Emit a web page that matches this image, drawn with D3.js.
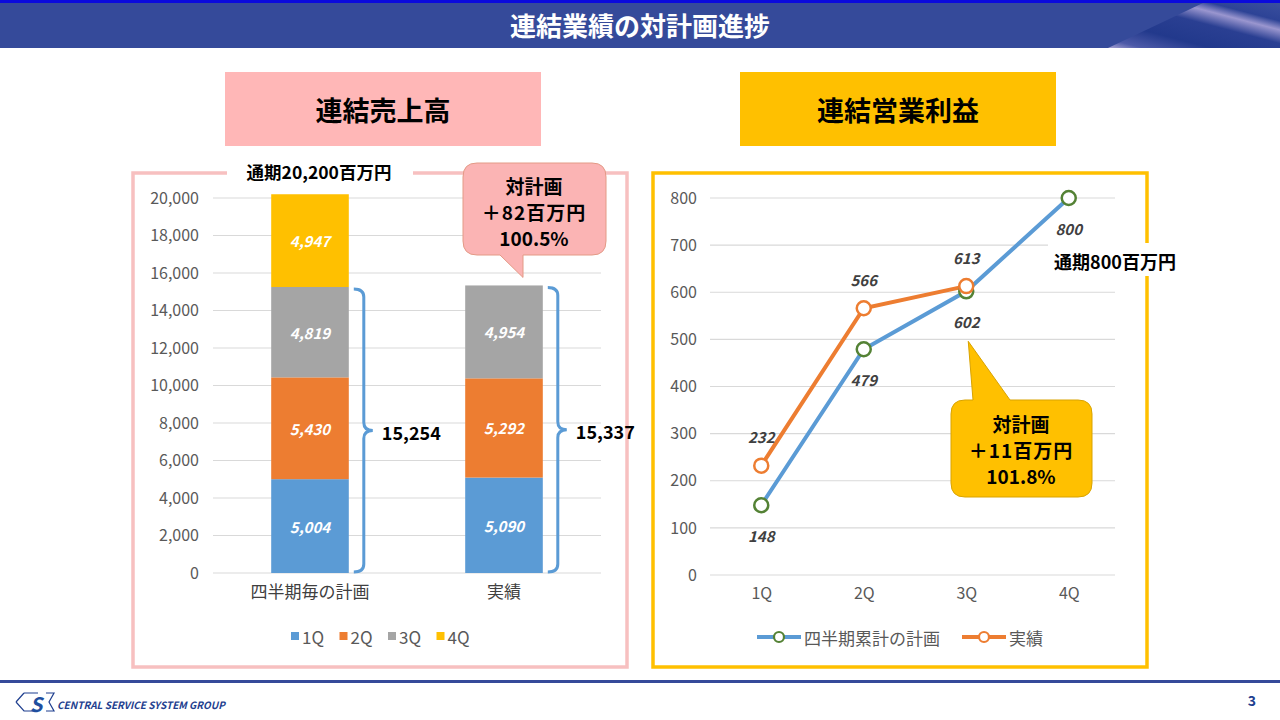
<!DOCTYPE html>
<html>
<head>
<meta charset="utf-8">
<script src="https://cdn.jsdelivr.net/npm/d3@7"></script>
<style>
  body { margin: 0; background: #fff; }
  svg { display: block; }
  text { font-family: "Noto Sans CJK JP", "Noto Sans", sans-serif; }
</style>
</head>
<body>
<svg id="chart" width="1280" height="720" viewBox="0 0 1280 720"></svg>
<script>
// data
const salesCategories = ["四半期毎の計画", "実績"]
const quarters = ["1Q", "2Q", "3Q", "4Q"]
const salesPlan = [5004, 5430, 4819, 4947]
const salesActual = [5090, 5292, 4954, 0]
const salesTicks = [0, 2000, 4000, 6000, 8000, 10000, 12000, 14000, 16000, 18000, 20000]
const salesTotals = [15254, 15337]
const salesPlanNote = "通期20,200百万円"
const salesDiff = ["対計画", "＋82百万円", "100.5%"]

const profitPlan = [148, 479, 602, 800]
const profitActual = [232, 566, 613]
const profitTicks = [0, 100, 200, 300, 400, 500, 600, 700, 800]
const profitSeries = ["四半期累計の計画", "実績"]
const profitPlanNote = "通期800百万円"
const profitDiff = ["対計画", "＋11百万円", "101.8%"]

const qColors = ["#5b9bd5", "#ed7d31", "#a5a5a5", "#ffc000"]

const svg = d3.select("#chart")
const fmt = d3.format(",")

// ---------- header ----------
const defs = svg.append("defs")
const grad = defs.append("linearGradient").attr("id", "stripe")
    .attr("x1", "0%").attr("y1", "100%").attr("x2", "100%").attr("y2", "0%")
;[["0%", "#a8a3d4"], ["10%", "#4d5aa8"], ["30%", "#22398c"], ["55%", "#2a3f92"], ["70%", "#9a96cf"], ["80%", "#2d4396"], ["100%", "#3a4f9e"]]
    .forEach(s => grad.append("stop").attr("offset", s[0]).attr("stop-color", s[1]))

svg.append("rect").attr("x", 0).attr("y", 0).attr("width", 1280).attr("height", 48).attr("fill", "#354a9a")
svg.append("polygon").attr("points", "1108,48 1203,3 1280,3 1280,48").attr("fill", "url(#stripe)")
svg.append("rect").attr("x", 0).attr("y", 0).attr("width", 1280).attr("height", 3).attr("fill", "#0a0adc")
svg.append("text").attr("x", 640).attr("y", 24).attr("text-anchor", "middle").attr("dominant-baseline", "central")
    .attr("fill", "#fff").attr("font-size", 26).attr("font-weight", "bold").text("連結業績の対計画進捗")

// ---------- title boxes ----------
const titles = [
    {x: 225, fill: "#ffb7b7", label: "連結売上高"},
    {x: 740, fill: "#ffc000", label: "連結営業利益"}
]
titles.forEach(t => {
    svg.append("rect").attr("x", t.x).attr("y", 72).attr("width", 316).attr("height", 74).attr("fill", t.fill)
    svg.append("text").attr("x", t.x + 158).attr("y", 109).attr("text-anchor", "middle").attr("dominant-baseline", "central")
        .attr("font-size", 27).attr("font-weight", "bold").attr("fill", "#000").text(t.label)
})

// ---------- panel frames ----------
svg.append("rect").attr("x", 133).attr("y", 173).attr("width", 494).attr("height", 494)
    .attr("fill", "none").attr("stroke", "#f7c0c0").attr("stroke-width", 3.5)
svg.append("rect").attr("x", 653).attr("y", 173).attr("width", 494).attr("height", 494)
    .attr("fill", "none").attr("stroke", "#ffc000").attr("stroke-width", 3.5)

// ---------- left chart: stacked bars ----------
const left = svg.append("g")
const xS = d3.scaleBand().domain(salesCategories).range([213, 601]).paddingInner(0.6).paddingOuter(0.3)
const yS = d3.scaleLinear().domain([0, 20000]).range([573, 198])

left.append("g").selectAll("line").data(salesTicks).join("line")
    .attr("x1", 213).attr("x2", 601).attr("y1", d => yS(d)).attr("y2", d => yS(d))
    .attr("stroke", "#d9d9d9").attr("stroke-width", 1.2)

const yAxisL = left.append("g").attr("transform", "translate(213,0)")
    .call(d3.axisLeft(yS).tickValues(salesTicks).tickFormat(fmt).tickSize(0).tickPadding(14))
yAxisL.select(".domain").remove()
yAxisL.selectAll("text").attr("font-size", 16).attr("fill", "#595959").attr("font-family", "\"Noto Sans CJK JP\", sans-serif")

const xAxisL = left.append("g").attr("transform", "translate(0,573)")
    .call(d3.axisBottom(xS).tickSize(0).tickPadding(13))
xAxisL.select(".domain").remove()
xAxisL.selectAll("text").attr("font-size", 17).attr("fill", "#404040").attr("font-family", "\"Noto Sans CJK JP\", sans-serif")

const salesRows = salesCategories.map((c, i) => {
    const src = i === 0 ? salesPlan : salesActual
    const row = {cat: c}
    quarters.forEach((q, j) => row[q] = src[j])
    return row
})
const stacked = d3.stack().keys(quarters)(salesRows)

const layers = left.append("g").selectAll("g").data(stacked).join("g")
    .attr("fill", (d, i) => qColors[i])
layers.selectAll("rect").data(d => d.filter(s => s[1] - s[0] > 0)).join("rect")
    .attr("x", d => xS(d.data.cat)).attr("width", xS.bandwidth())
    .attr("y", d => yS(d[1])).attr("height", d => yS(d[0]) - yS(d[1]))
layers.selectAll("text").data(d => d.filter(s => s[1] - s[0] > 0)).join("text")
    .attr("x", d => xS(d.data.cat) + xS.bandwidth() / 2)
    .attr("y", d => yS((d[0] + d[1]) / 2))
    .attr("text-anchor", "middle").attr("dominant-baseline", "central")
    .attr("fill", "#fff").attr("font-size", 15).attr("font-weight", "bold").attr("font-style", "italic")
    .attr("font-family", "\"Noto Sans\", sans-serif")
    .text(d => fmt(d[1] - d[0]))

// braces over 1Q-3Q
function bracePath(x, y0, y1) {
    const ym = (y0 + y1) / 2, r = 8
    return `M${x - 10},${y0} Q${x},${y0} ${x},${y0 + r} L${x},${ym - r} Q${x},${ym} ${x + 9},${ym}`
        + ` Q${x},${ym} ${x},${ym + r} L${x},${y1 - r} Q${x},${y1} ${x - 10},${y1}`
}
salesCategories.forEach((c, i) => {
    const src = i === 0 ? salesPlan : salesActual
    const top = d3.sum(src.slice(0, 3))
    const bx = xS(c) + xS.bandwidth() + 15
    left.append("path").attr("d", bracePath(bx, yS(top) + 2, yS(0) - 1))
        .attr("fill", "none").attr("stroke", "#5b9bd5").attr("stroke-width", 3)
    left.append("text").attr("x", bx + 18).attr("y", (yS(top) + yS(0)) / 2 + 2)
        .attr("dominant-baseline", "central").attr("font-size", 18).attr("font-weight", "bold")
        .attr("font-family", "\"Noto Sans\", sans-serif").text(fmt(salesTotals[i]))
})

// full-year plan note on frame
svg.append("rect").attr("x", 227).attr("y", 160).attr("width", 186).attr("height", 24).attr("fill", "#fff")
svg.append("text").attr("x", 319).attr("y", 171).attr("text-anchor", "middle").attr("dominant-baseline", "central")
    .attr("font-size", 17.5).attr("font-weight", "bold").text(salesPlanNote)

// callouts
function callout(g, x, y, w, h, tip, base, fill, stroke) {
    const r = 14
    const p = `M${x + r},${y} H${x + w - r} Q${x + w},${y} ${x + w},${y + r} V${y + h - r} Q${x + w},${y + h} ${x + w - r},${y + h}`
        + ` H${base[1]} L${tip[0]},${tip[1]} L${base[0]},${y + h} H${x + r} Q${x},${y + h} ${x},${y + h - r} V${y + r} Q${x},${y} ${x + r},${y} Z`
    g.append("path").attr("d", p).attr("fill", fill).attr("stroke", stroke).attr("stroke-width", 1)
}
function calloutTop(g, x, y, w, h, tip, base, fill, stroke) {
    const r = 14
    const p = `M${x + r},${y} H${base[0]} L${tip[0]},${tip[1]} L${base[1]},${y} H${x + w - r} Q${x + w},${y} ${x + w},${y + r} V${y + h - r} Q${x + w},${y + h} ${x + w - r},${y + h}`
        + ` H${x + r} Q${x},${y + h} ${x},${y + h - r} V${y + r} Q${x},${y} ${x + r},${y} Z`
    g.append("path").attr("d", p).attr("fill", fill).attr("stroke", stroke).attr("stroke-width", 1)
}
const actTopX = xS(salesCategories[1]) + xS.bandwidth() / 2 + 19
callout(left, 463, 163, 143, 92, [actTopX, yS(d3.sum(salesActual)) - 8], [500, 523], "#fbb4b4", "#e39a86")
salesDiff.forEach((t, i) => {
    left.append("text").attr("x", 534).attr("y", 185 + i * 26).attr("text-anchor", "middle").attr("dominant-baseline", "central")
        .attr("font-size", 19).attr("font-weight", "bold").attr("letter-spacing", i === 1 ? 1 : 0).text(t)
})

// legend
const legL = left.append("g")
quarters.forEach((q, i) => {
    const lx = 291 + i * 48.5
    legL.append("rect").attr("x", lx).attr("y", 632).attr("width", 8).attr("height", 8).attr("fill", qColors[i])
    legL.append("text").attr("x", lx + 11).attr("y", 636).attr("dominant-baseline", "central")
        .attr("font-size", 17).attr("fill", "#595959").text(q)
})

// ---------- right chart: cumulative profit lines ----------
const right = svg.append("g")
const xP = d3.scalePoint().domain(quarters).range([710, 1120]).padding(0.5)
const yP = d3.scaleLinear().domain([0, 800]).range([575, 198])

right.append("g").selectAll("line").data(profitTicks).join("line")
    .attr("x1", 710).attr("x2", 1115).attr("y1", d => yP(d)).attr("y2", d => yP(d))
    .attr("stroke", "#d9d9d9").attr("stroke-width", 1.2)

const yAxisR = right.append("g").attr("transform", "translate(710,0)")
    .call(d3.axisLeft(yP).tickValues(profitTicks).tickSize(0).tickPadding(13))
yAxisR.select(".domain").remove()
yAxisR.selectAll("text").attr("font-size", 16).attr("fill", "#595959").attr("font-family", "\"Noto Sans CJK JP\", sans-serif")

const xAxisR = right.append("g").attr("transform", "translate(0,575)")
    .call(d3.axisBottom(xP).tickSize(0).tickPadding(13))
xAxisR.select(".domain").remove()
xAxisR.selectAll("text").attr("font-size", 16).attr("fill", "#595959").attr("font-family", "\"Noto Sans CJK JP\", sans-serif")

const line = d3.line().x((d, i) => xP(quarters[i])).y(d => yP(d))
right.append("path").datum(profitPlan).attr("d", line)
    .attr("fill", "none").attr("stroke", "#5b9bd5").attr("stroke-width", 4)
right.append("path").datum(profitActual).attr("d", line)
    .attr("fill", "none").attr("stroke", "#ed7d31").attr("stroke-width", 4)

right.append("g").selectAll("circle").data(profitPlan).join("circle")
    .attr("cx", (d, i) => xP(quarters[i])).attr("cy", d => yP(d)).attr("r", 7)
    .attr("fill", "#fff").attr("stroke", "#548235").attr("stroke-width", 2.5)
right.append("g").selectAll("circle").data(profitActual).join("circle")
    .attr("cx", (d, i) => xP(quarters[i])).attr("cy", d => yP(d)).attr("r", 7)
    .attr("fill", "#fff").attr("stroke", "#ed7d31").attr("stroke-width", 2.5)

const lblStyle = s => s.attr("text-anchor", "middle").attr("dominant-baseline", "central")
    .attr("font-size", 15).attr("font-weight", "bold").attr("font-style", "italic").attr("fill", "#404040")
    .attr("font-family", "\"Noto Sans\", sans-serif")
right.append("g").selectAll("text").data(profitPlan).join("text")
    .attr("x", (d, i) => xP(quarters[i])).attr("y", d => yP(d) + 30).call(lblStyle).text(d => d)
right.append("g").selectAll("text").data(profitActual).join("text")
    .attr("x", (d, i) => xP(quarters[i])).attr("y", d => yP(d) - 29).call(lblStyle).text(d => d)

// full-year note
svg.append("rect").attr("x", 1048).attr("y", 243).attr("width", 132).attr("height", 33).attr("fill", "#fff")
svg.append("text").attr("x", 1115).attr("y", 261).attr("text-anchor", "middle").attr("dominant-baseline", "central")
    .attr("font-size", 18).attr("font-weight", "bold").text(profitPlanNote)

// gold callout
calloutTop(right, 951, 400, 141, 97, [xP("3Q") + 2, yP(profitPlan[2]) + 50], [973, 1010], "#ffc000", "#d9a300")
profitDiff.forEach((t, i) => {
    right.append("text").attr("x", 1021).attr("y", 423 + i * 26).attr("text-anchor", "middle").attr("dominant-baseline", "central")
        .attr("font-size", 19).attr("font-weight", "bold").attr("letter-spacing", i === 1 ? 1 : 0).text(t)
})

// legend
const legR = right.append("g")
const legItems = [
    {x: 757, stroke: "#5b9bd5", mark: "#548235", label: profitSeries[0]},
    {x: 962, stroke: "#ed7d31", mark: "#ed7d31", label: profitSeries[1]}
]
legItems.forEach(it => {
    legR.append("line").attr("x1", it.x).attr("x2", it.x + 44).attr("y1", 637).attr("y2", 637)
        .attr("stroke", it.stroke).attr("stroke-width", 4)
    legR.append("circle").attr("cx", it.x + 22).attr("cy", 637).attr("r", 5)
        .attr("fill", "#fff").attr("stroke", it.mark).attr("stroke-width", 2.2)
    legR.append("text").attr("x", it.x + 47).attr("y", 637).attr("dominant-baseline", "central")
        .attr("font-size", 17).attr("fill", "#595959").text(it.label)
})

// ---------- footer ----------
svg.append("rect").attr("x", 0).attr("y", 680).attr("width", 1280).attr("height", 3).attr("fill", "#354a9a")
const logo = svg.append("g").attr("transform", "translate(16,693)")
logo.append("path").attr("d", "M8,0 H22 M0,9 L8,0 M0,9 L8,18 H22 M30,0 H38 L33,9 L38,18 H30")
    .attr("fill", "none").attr("stroke", "#1f3f8f").attr("stroke-width", 1.2)
logo.append("text").attr("x", 20).attr("y", 10).attr("text-anchor", "middle").attr("dominant-baseline", "central")
    .attr("font-size", 20).attr("font-weight", "bold").attr("font-style", "italic").attr("fill", "#1f4f9f")
    .attr("font-family", "\"DejaVu Sans\", sans-serif").text("S")
logo.append("text").attr("x", 41).attr("y", 11).attr("dominant-baseline", "central")
    .attr("font-size", 10).attr("font-weight", "bold").attr("font-style", "italic").attr("fill", "#1f3f8f")
    .attr("font-family", "\"Liberation Sans\", sans-serif").text("CENTRAL SERVICE SYSTEM GROUP")
svg.append("text").attr("x", 1252).attr("y", 700).attr("text-anchor", "middle").attr("dominant-baseline", "central")
    .attr("font-size", 14).attr("font-weight", "bold").attr("fill", "#1f3f8f").text("3")
</script>
</body>
</html>
